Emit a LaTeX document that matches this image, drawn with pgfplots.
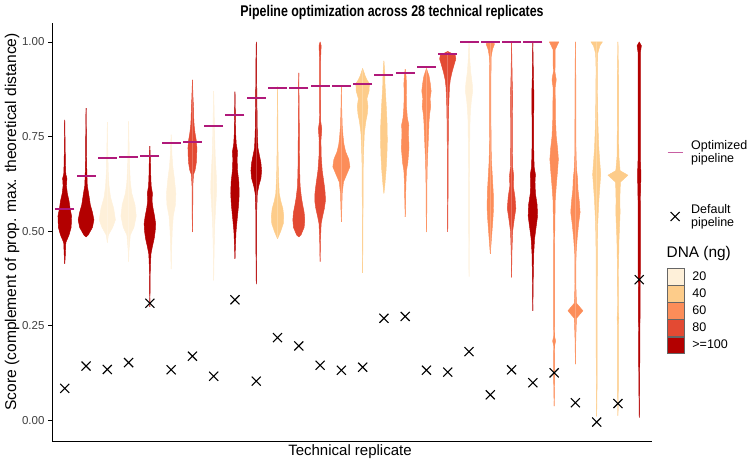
\documentclass[border=0pt]{standalone}
\usepackage{pgfplots}
\pgfplotsset{compat=1.18}
\usepackage{pgfplotstable}
\usepackage{fontspec}
\setmainfont{Liberation Sans}
\definecolor{c20}{HTML}{FEF0D9}
\definecolor{c40}{HTML}{FDCC8A}
\definecolor{c60}{HTML}{FC8D59}
\definecolor{c80}{HTML}{E34A33}
\definecolor{c100}{HTML}{B30000}
\definecolor{opt}{HTML}{B0197A}

\pgfplotsset{
  xlegend/.style={legend image code/.code={\draw[mark repeat=2,mark phase=2,##1] plot coordinates {(0pt,0pt)(7.5pt,0pt)(15pt,0pt)};}},
  optlegend/.style={legend image code/.code={\draw[opt!70!white, line width=0.9pt] (0pt,0pt) -- (15pt,0pt);}},
  boxlegend/.style={legend image code/.code={\draw[##1, draw=black!60, line width=0.5pt] (0pt,-8.3pt) rectangle (16.7pt,8.3pt);}},
}

% violin profiles: y = score, w = half width (in category units)
\pgfplotstableread[row sep=\\]{y w\\0.414 0\\0.43 0.02\\0.47 0.05\\0.49 0.2\\0.51 0.3\\0.54 0.32\\0.56 0.25\\0.58 0.2\\0.60 0.12\\0.62 0.08\\0.64 0.1\\0.65 0.05\\0.68 0.03\\0.72 0.02\\0.794 0\\}\VA
\pgfplotstableread[row sep=\\]{y w\\0.485 0\\0.49 0.1\\0.51 0.3\\0.53 0.37\\0.55 0.3\\0.57 0.2\\0.60 0.12\\0.62 0.06\\0.65 0.04\\0.70 0.02\\0.75 0.015\\0.825 0\\}\VB
\pgfplotstableread[row sep=\\]{y w\\0.47 0\\0.49 0.05\\0.51 0.25\\0.53 0.38\\0.56 0.3\\0.59 0.15\\0.62 0.08\\0.66 0.04\\0.72 0.02\\0.788 0\\}\VC
\pgfplotstableread[row sep=\\]{y w\\0.42 0\\0.45 0.02\\0.49 0.08\\0.51 0.25\\0.54 0.36\\0.57 0.3\\0.60 0.15\\0.63 0.08\\0.68 0.04\\0.79 0\\}\VD
\pgfplotstableread[row sep=\\]{y w\\0.30 0\\0.40 0.02\\0.44 0.05\\0.46 0.12\\0.48 0.2\\0.50 0.25\\0.52 0.27\\0.54 0.22\\0.56 0.15\\0.58 0.1\\0.60 0.12\\0.62 0.06\\0.65 0.04\\0.68 0.03\\0.725 0\\}\VE
\pgfplotstableread[row sep=\\]{y w\\0.40 0\\0.45 0.02\\0.50 0.05\\0.54 0.1\\0.57 0.2\\0.60 0.22\\0.64 0.15\\0.67 0.08\\0.70 0.04\\0.755 0\\}\VF
\pgfplotstableread[row sep=\\]{y w\\0.498 0\\0.55 0.015\\0.62 0.02\\0.65 0.05\\0.66 0.12\\0.68 0.18\\0.70 0.2\\0.72 0.21\\0.74 0.18\\0.76 0.12\\0.78 0.08\\0.80 0.06\\0.83 0.05\\0.85 0.03\\0.90 0\\}\VG
\pgfplotstableread[row sep=\\]{y w\\0.37 0\\0.45 0.02\\0.52 0.05\\0.57 0.1\\0.61 0.14\\0.65 0.12\\0.70 0.07\\0.76 0.04\\0.82 0.02\\0.87 0\\}\VH
\pgfplotstableread[row sep=\\]{y w\\0.427 0\\0.46 0.02\\0.50 0.05\\0.53 0.1\\0.57 0.17\\0.60 0.2\\0.63 0.18\\0.66 0.12\\0.69 0.1\\0.71 0.12\\0.73 0.06\\0.76 0.03\\0.80 0.02\\0.869 0\\}\VI
\pgfplotstableread[row sep=\\]{y w\\0.36 0\\0.45 0.015\\0.55 0.02\\0.60 0.05\\0.62 0.12\\0.64 0.22\\0.66 0.25\\0.68 0.22\\0.70 0.15\\0.72 0.08\\0.76 0.05\\0.80 0.04\\0.85 0.03\\0.90 0.02\\0.95 0.015\\1.0 0\\}\VJ
\pgfplotstableread[row sep=\\]{y w\\0.48 0\\0.50 0.15\\0.52 0.27\\0.54 0.29\\0.56 0.25\\0.58 0.15\\0.60 0.08\\0.65 0.04\\0.72 0.02\\0.80 0.015\\0.882 0\\}\VK
\pgfplotstableread[row sep=\\]{y w\\0.485 0\\0.49 0.1\\0.51 0.25\\0.53 0.28\\0.55 0.25\\0.57 0.18\\0.59 0.12\\0.62 0.06\\0.66 0.04\\0.72 0.03\\0.80 0.02\\0.918 0\\}\VL
\pgfplotstableread[row sep=\\]{y w\\0.42 0\\0.48 0.02\\0.52 0.05\\0.54 0.12\\0.56 0.2\\0.58 0.25\\0.60 0.24\\0.62 0.2\\0.64 0.15\\0.66 0.1\\0.70 0.05\\0.74 0.04\\0.77 0.08\\0.79 0.03\\0.85 0.02\\0.95 0.02\\0.99 0.05\\1.0 0\\}\VM
\pgfplotstableread[row sep=\\]{y w\\0.525 0\\0.56 0.02\\0.60 0.04\\0.63 0.1\\0.65 0.25\\0.67 0.4\\0.69 0.35\\0.71 0.2\\0.73 0.12\\0.75 0.08\\0.78 0.04\\0.82 0.02\\0.882 0\\}\VN
\pgfplotstableread[row sep=\\]{y w\\0.39 0\\0.50 0.015\\0.60 0.02\\0.68 0.03\\0.72 0.05\\0.76 0.08\\0.79 0.15\\0.81 0.22\\0.83 0.25\\0.85 0.2\\0.87 0.3\\0.89 0.32\\0.90 0.2\\0.91 0.12\\0.93 0\\}\VO
\pgfplotstableread[row sep=\\]{y w\\0.60 0\\0.62 0.04\\0.66 0.1\\0.70 0.14\\0.74 0.16\\0.78 0.15\\0.82 0.12\\0.86 0.08\\0.89 0.05\\0.92 0.04\\0.95 0\\}\VP
\pgfplotstableread[row sep=\\]{y w\\0.538 0\\0.58 0.02\\0.62 0.03\\0.66 0.06\\0.68 0.12\\0.72 0.18\\0.76 0.15\\0.78 0.17\\0.80 0.1\\0.83 0.06\\0.86 0.05\\0.89 0.06\\0.91 0.04\\0.928 0\\}\VQ
\pgfplotstableread[row sep=\\]{y w\\0.498 0\\0.55 0.015\\0.62 0.02\\0.68 0.04\\0.72 0.07\\0.76 0.1\\0.79 0.12\\0.81 0.15\\0.83 0.2\\0.85 0.17\\0.87 0.22\\0.89 0.18\\0.91 0.12\\0.93 0\\}\VR
\pgfplotstableread[row sep=\\]{y w\\0.498 0\\0.60 0.015\\0.70 0.02\\0.78 0.03\\0.84 0.05\\0.88 0.08\\0.90 0.12\\0.92 0.2\\0.94 0.3\\0.955 0.38\\0.965 0.35\\0.975 0\\}\VS
\pgfplotstableread[row sep=\\]{y w\\0.38 0\\0.50 0.015\\0.62 0.02\\0.72 0.03\\0.80 0.05\\0.84 0.1\\0.87 0.17\\0.89 0.15\\0.92 0.08\\0.95 0.04\\1.0 0\\}\VT
\pgfplotstableread[row sep=\\]{y w\\0.44 0\\0.47 0.04\\0.50 0.08\\0.53 0.12\\0.56 0.15\\0.60 0.14\\0.64 0.1\\0.68 0.06\\0.72 0.04\\0.80 0.03\\0.90 0.03\\0.96 0.04\\0.98 0.1\\0.995 0.2\\1.0 0\\}\VU
\pgfplotstableread[row sep=\\]{y w\\0.378 0\\0.45 0.02\\0.50 0.05\\0.53 0.12\\0.56 0.2\\0.59 0.16\\0.62 0.08\\0.645 0.1\\0.67 0.05\\0.72 0.04\\0.80 0.04\\0.86 0.05\\0.90 0.03\\1.0 0\\}\VV
\pgfplotstableread[row sep=\\]{y w\\0.29 0\\0.38 0.02\\0.44 0.04\\0.48 0.08\\0.51 0.15\\0.54 0.22\\0.57 0.2\\0.60 0.12\\0.63 0.1\\0.65 0.12\\0.67 0.06\\0.72 0.04\\0.80 0.04\\0.86 0.05\\0.90 0.03\\1.0 0\\}\VW
\pgfplotstableread[row sep=\\]{y w\\0.038 0\\0.10 0.02\\0.20 0.03\\0.21 0.07\\0.22 0.03\\0.35 0.02\\0.50 0.03\\0.58 0.05\\0.62 0.1\\0.66 0.16\\0.69 0.2\\0.72 0.16\\0.75 0.1\\0.80 0.06\\0.88 0.05\\0.90 0.1\\0.92 0.04\\0.98 0.05\\1.0 0.22\\1.0 0\\}\VX
\pgfplotstableread[row sep=\\]{y w\\0.149 0\\0.22 0.02\\0.27 0.05\\0.29 0.35\\0.31 0.05\\0.36 0.02\\0.44 0.03\\0.48 0.08\\0.52 0.15\\0.55 0.22\\0.58 0.18\\0.61 0.12\\0.64 0.1\\0.66 0.06\\0.70 0.03\\0.80 0.02\\0.90 0.02\\1.0 0\\}\VY
\pgfplotstableread[row sep=\\]{y w\\0.011 0\\0.10 0.02\\0.30 0.025\\0.45 0.03\\0.52 0.05\\0.58 0.1\\0.62 0.15\\0.65 0.19\\0.68 0.15\\0.72 0.1\\0.78 0.06\\0.85 0.04\\0.93 0.03\\0.97 0.05\\0.99 0.15\\1.0 0.27\\1.0 0\\}\VZ
\pgfplotstableread[row sep=\\]{y w\\0.013 0\\0.10 0.02\\0.25 0.02\\0.27 0.04\\0.29 0.02\\0.40 0.025\\0.48 0.05\\0.52 0.08\\0.55 0.1\\0.58 0.09\\0.61 0.1\\0.63 0.12\\0.648 0.47\\0.66 0.1\\0.70 0.04\\0.80 0.03\\0.90 0.03\\1.0 0\\}\VAA
\pgfplotstableread[row sep=\\]{y w\\0.008 0\\0.10 0.02\\0.20 0.03\\0.30 0.04\\0.40 0.05\\0.50 0.05\\0.60 0.06\\0.65 0.08\\0.70 0.05\\0.80 0.05\\0.90 0.05\\0.97 0.05\\0.99 0.1\\1.0 0\\}\VAB

\newcommand{\violin}[3]{%
  \addplot[forget plot, fill=#2, draw=#2, line width=0.45pt, line join=round] table[x expr={#1+\thisrow{w}}, y=y] {#3};
  \addplot[forget plot, fill=#2, draw=#2, line width=0.45pt, line join=round] table[x expr={#1-\thisrow{w}}, y=y] {#3};
}

\begin{document}
\begin{tikzpicture}
\useasboundingbox (0,0) rectangle (750pt,463pt);
\begin{axis}[
  at={(52pt,22pt)}, anchor=south west,
  scale only axis, width=600pt, height=418pt,
  xmin=0.4, xmax=28.6, ymin=-0.054, ymax=1.05,
  axis x line*=bottom, axis y line*=left,
  axis line style={line width=0.8pt, -},
  xtick=\empty,
  ytick={0,0.25,0.5,0.75,1},
  yticklabels={0.00,0.25,0.50,0.75,1.00},
  tick align=outside, major tick length=4pt,
  tick style={line width=0.8pt, black},
  yticklabel style={font=\fontsize{11.5}{13}\selectfont, text=black!75},
  clip=false,
  legend style={at={(1.025,0.614)}, anchor=west, draw=none, fill=none,
    font=\fontsize{12.5}{12.7}\selectfont, row sep=37pt, column sep=6pt,
    inner sep=0pt, cells={align=left, anchor=west}},
]
\violin{1}{c100}{\VA}
\violin{2}{c100}{\VB}
\violin{3}{c20}{\VC}
\violin{4}{c20}{\VD}
\violin{5}{c100}{\VE}
\violin{6}{c20}{\VF}
\violin{7}{c80}{\VG}
\violin{8}{c20}{\VH}
\violin{9}{c100}{\VI}
\violin{10}{c100}{\VJ}
\violin{11}{c40}{\VK}
\violin{12}{c80}{\VL}
\violin{13}{c80}{\VM}
\violin{14}{c60}{\VN}
\violin{15}{c40}{\VO}
\violin{16}{c40}{\VP}
\violin{17}{c60}{\VQ}
\violin{18}{c60}{\VR}
\violin{19}{c80}{\VS}
\violin{20}{c20}{\VT}
\violin{21}{c60}{\VU}
\violin{22}{c80}{\VV}
\violin{23}{c100}{\VW}
\violin{24}{c60}{\VX}
\violin{25}{c60}{\VY}
\violin{26}{c40}{\VZ}
\violin{27}{c40}{\VAA}
\violin{28}{c100}{\VAB}
% optimized pipeline
\addplot[forget plot, only marks, mark=-, mark size=9.5pt, mark options={line width=2pt, opt}] coordinates {
(1,0.558)(2,0.647)(3,0.693)(4,0.695)(5,0.698)(6,0.733)(7,0.737)(8,0.779)(9,0.808)(10,0.851)
(11,0.877)(12,0.879)(13,0.884)(14,0.884)(15,0.889)(16,0.912)(17,0.917)(18,0.933)(19,0.967)
(20,1.0)(21,1.0)(22,1.0)(23,1.0)};
% default pipeline
\addplot[forget plot, only marks, mark=x, mark size=6.4pt, mark options={line width=1.1pt, black}] coordinates {
(1,0.085)(2,0.144)(3,0.135)(4,0.153)(5,0.31)(6,0.134)(7,0.170)(8,0.117)(9,0.319)(10,0.104)
(11,0.219)(12,0.197)(13,0.146)(14,0.133)(15,0.141)(16,0.27)(17,0.275)(18,0.133)(19,0.128)
(20,0.182)(21,0.068)(22,0.134)(23,0.10)(24,0.126)(25,0.047)(26,-0.004)(27,0.045)(28,0.372)};
\addlegendimage{optlegend}
\addlegendentry{Optimized\\pipeline}
\addlegendimage{black, line width=1.1pt, mark=x, mark size=6.4pt, only marks, xlegend}
\addlegendentry{Default\\pipeline}
\end{axis}
\begin{axis}[
  at={(52pt,22pt)}, anchor=south west,
  scale only axis, width=600pt, height=418pt,
  xmin=0, xmax=1, ymin=0, ymax=1, hide axis,
  legend style={at={(1.025,0.4139)}, anchor=north west, draw=none, fill=none,
    font=\fontsize{12.5}{14}\selectfont, row sep=0pt, column sep=6pt,
    inner sep=0pt, cells={anchor=west}},
]
\addlegendimage{boxlegend, fill=c20}\addlegendentry{20}
\addlegendimage{boxlegend, fill=c40}\addlegendentry{40}
\addlegendimage{boxlegend, fill=c60}\addlegendentry{60}
\addlegendimage{boxlegend, fill=c80}\addlegendentry{80}
\addlegendimage{boxlegend, fill=c100}\addlegendentry{>=100}
\end{axis}
\node[anchor=west, inner sep=0pt, font=\fontsize{15.4}{17}\selectfont] at (666.5pt,209pt) {DNA (ng)};
\node[font=\bfseries\fontsize{15.5}{17}\selectfont] at (392pt,451pt) {\scalebox{0.8}[1]{Pipeline optimization across 28 technical replicates}};
\node[font=\fontsize{15}{17}\selectfont] at (350pt,11pt) {Technical replicate};
\node[rotate=90, font=\fontsize{15.6}{17}\selectfont] at (12pt,241pt) {Score (complement of prop. max. theoretical distance)};
\end{tikzpicture}
\end{document}
